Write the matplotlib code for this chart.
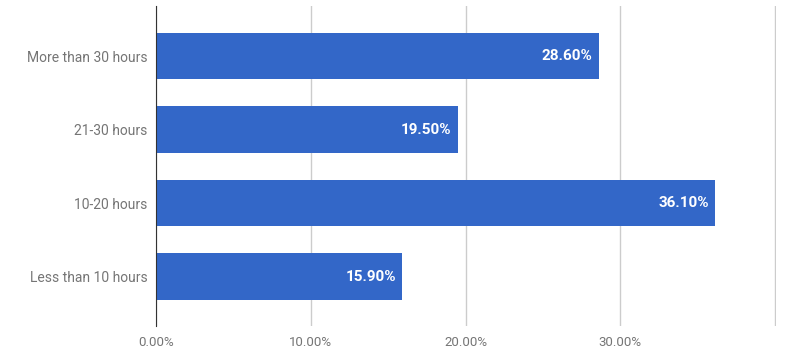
import matplotlib.pyplot as plt
from matplotlib.ticker import FuncFormatter

categories = ["Less than 10 hours", "10-20 hours", "21-30 hours", "More than 30 hours"]
values = [15.9, 36.1, 19.5, 28.6]
xticks = [0, 10, 20, 30, 40]

plt.rcParams['font.family'] = ['Roboto', 'DejaVu Sans']

fig = plt.figure(figsize=(8, 3.61), dpi=100)
ax = fig.add_axes([0.195, 0.097, 0.775, 0.886])

ypos = list(range(len(categories)))
ax.barh(ypos, values, height=0.63, color="#3367c8", zorder=3)

for y, v in zip(ypos, values):
    ax.text(v - 0.4, y, "{0:.2f}%".format(v), ha="right", va="center",
            color="white", fontsize=11, fontweight="bold", zorder=4)

ax.set_xlim(0, 40.05)
ax.set_ylim(-0.673, 3.68)
ax.set_xticks(xticks)
ax.xaxis.set_major_formatter(FuncFormatter(lambda x, p: "" if x >= 40 else "{0:.2f}%".format(x)))
ax.set_yticks(ypos)
ax.set_yticklabels(categories, fontsize=10)
ax.grid(axis="x", color="#cccccc", linewidth=1, zorder=0)
ax.tick_params(axis="both", length=0, labelcolor="#757575")
ax.tick_params(axis="x", pad=7, labelsize=9.5)
ax.tick_params(axis="y", pad=6)

for s in ["top", "right", "bottom"]:
    ax.spines[s].set_visible(False)
ax.spines["left"].set_color("#333333")
ax.spines["left"].set_zorder(5)

fig.savefig("out.png", dpi=100)
